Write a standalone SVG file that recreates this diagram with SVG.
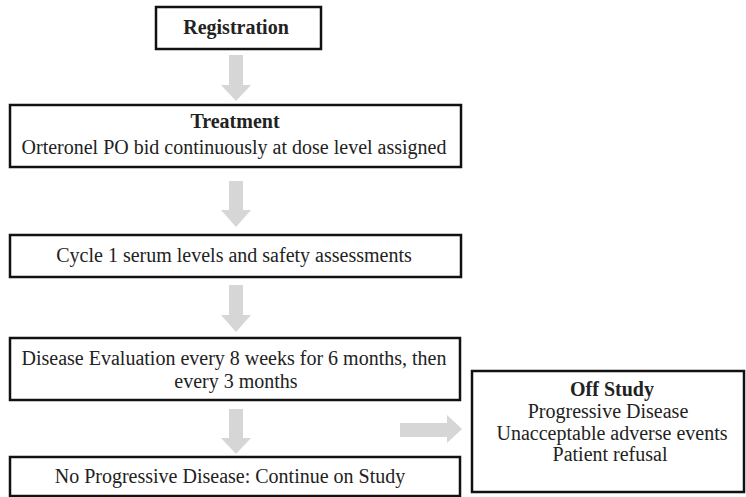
<svg xmlns="http://www.w3.org/2000/svg" width="746" height="497" viewBox="0 0 746 497">
<style>
.box{fill:#fff;stroke:#111;stroke-width:2.5}
.t{font-family:"Liberation Serif","Times New Roman",serif;font-size:20px;fill:#222;text-anchor:middle}
.b{font-weight:bold}
.arr{fill:#d6d6d6}
</style>
<rect width="746" height="497" fill="#fff"/>
<g id="connectors">
<polygon class="arr" points="229,55 243,55 243,85 251,85 236,101 221,85 229,85"/>
<polygon class="arr" points="229,181 243,181 243,210 251,210 236,227 221,210 229,210"/>
<polygon class="arr" points="229,285 243,285 243,315 251,315 236,332 221,315 229,315"/>
<polygon class="arr" points="229,409 243,409 243,438 251,438 236,454 221,438 229,438"/>
<polygon class="arr" points="400,423 447,423 447,415 462,429 447,443 447,437 400,437"/>
</g>
<g id="registration">
<rect class="box" x="156" y="7" width="165" height="42"/>
<text class="t b" x="236" y="34">Registration</text>
</g>
<g id="treatment">
<rect class="box" x="10" y="105" width="451" height="62"/>
<text class="t b" x="235" y="128">Treatment</text>
<text class="t" x="234" y="154">Orteronel PO bid continuously at dose level assigned</text>
</g>
<g id="cycle1">
<rect class="box" x="10" y="235" width="451" height="42"/>
<text class="t" x="234" y="262">Cycle 1 serum levels and safety assessments</text>
</g>
<g id="evaluation">
<rect class="box" x="10" y="338" width="450" height="62"/>
<text class="t" x="234" y="365">Disease Evaluation every 8 weeks for 6 months, then</text>
<text class="t" x="236" y="388">every 3 months</text>
</g>
<g id="no-progression">
<rect class="box" x="10" y="457" width="450" height="39"/>
<text class="t" x="230" y="483">No Progressive Disease: Continue on Study</text>
</g>
<g id="off-study">
<rect class="box" x="472" y="371" width="272" height="121"/>
<text class="t b" x="612" y="396">Off Study</text>
<text class="t" x="608" y="418">Progressive Disease</text>
<text class="t" x="612" y="440">Unacceptable adverse events</text>
<text class="t" x="610" y="461">Patient refusal</text>
</g>
</svg>
